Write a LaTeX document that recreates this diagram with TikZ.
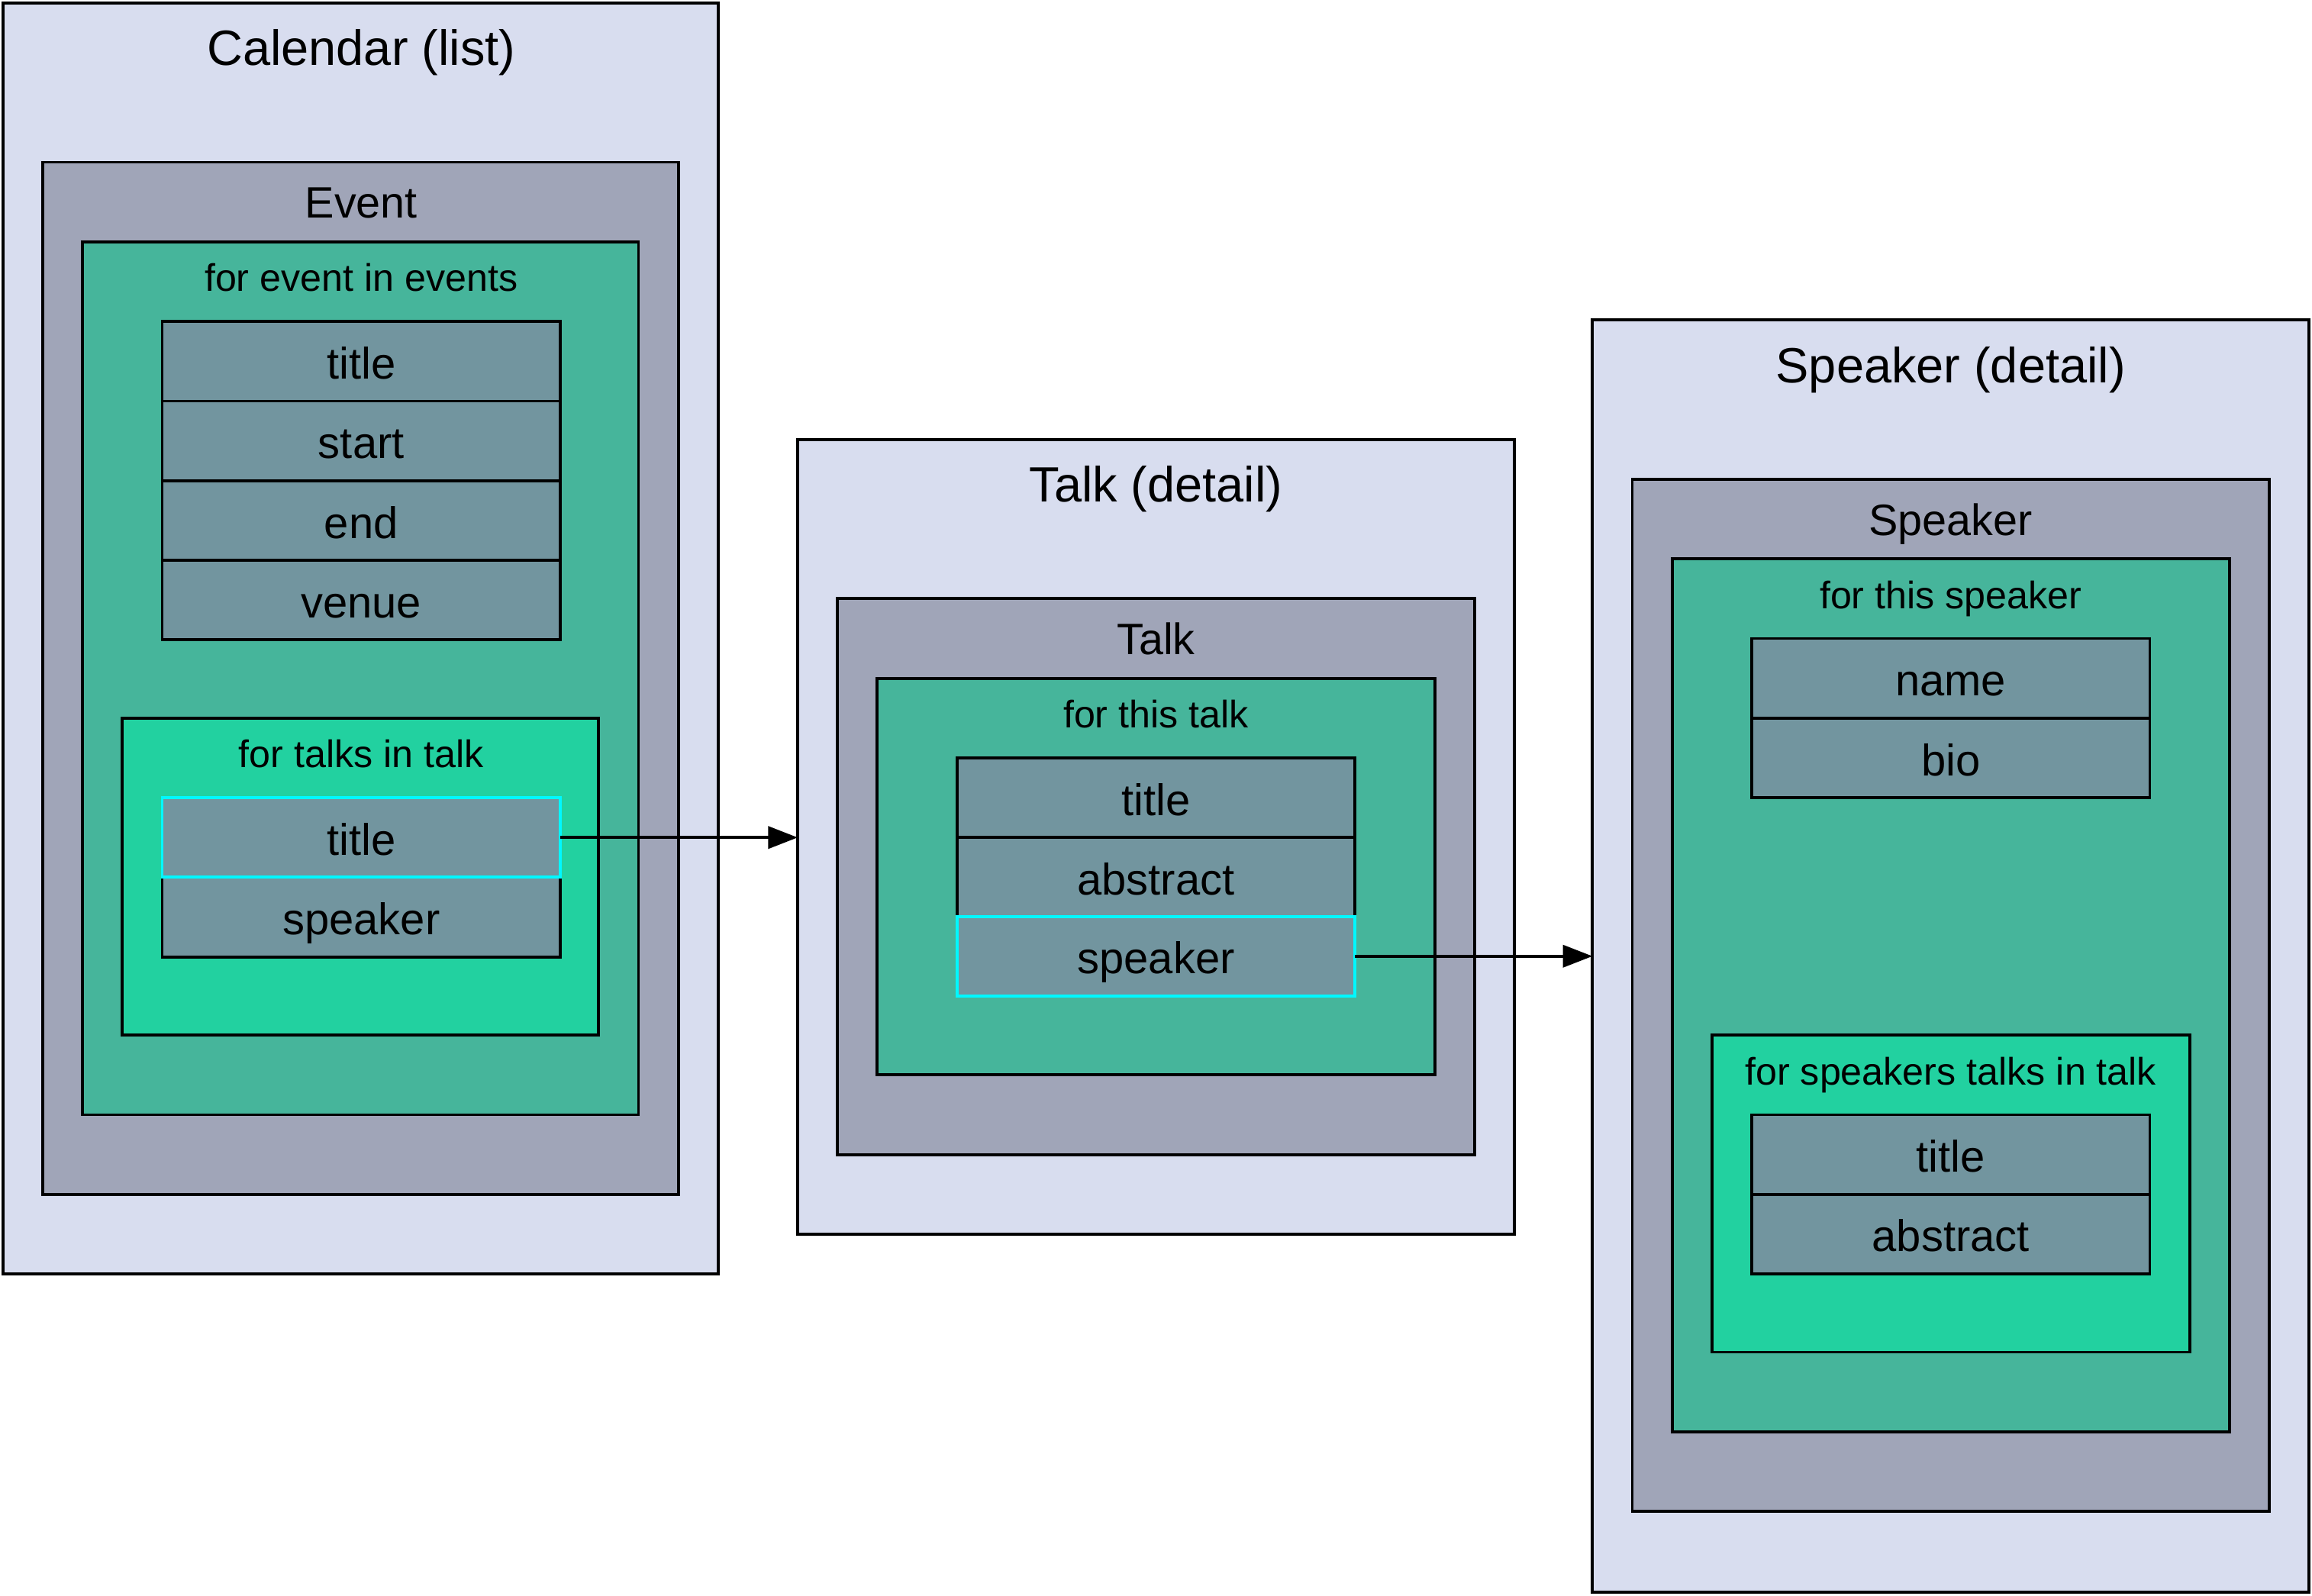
\documentclass[tikz,border=0pt]{standalone}
\usepackage{fontspec}
\setmainfont{Liberation Sans}
\usetikzlibrary{arrows.meta}
\definecolor{pagebg}{HTML}{D8DDEF}
\definecolor{objbg}{HTML}{A0A5B8}
\definecolor{loopbg}{HTML}{46B59B}
\definecolor{subloopbg}{HTML}{22D1A0}
\definecolor{fieldbg}{HTML}{72959F}
\definecolor{linkcyan}{HTML}{00F8FF}
\newcommand{\pxu}{0.5pt}

\begin{document}
\begin{tikzpicture}[x=0.5pt,y=-0.5pt,
  panel/.style={draw=black, line width=1pt, inner sep=0pt, outer sep=0pt, anchor=north west},
  wh/.style 2 args={minimum width=#1*\pxu, minimum height=#2*\pxu},
  pagebox/.style={panel, fill=pagebg},
  objbox/.style={panel, fill=objbg},
  loopbox/.style={panel, fill=loopbg},
  subloopbox/.style={panel, fill=subloopbg},
  bigtitle/.style={anchor=base, inner sep=0pt, font=\fontsize{16.8}{20}\selectfont},
  objtitle/.style={anchor=base, inner sep=0pt, font=\fontsize{14.9}{18}\selectfont},
  looptitle/.style={anchor=base, inner sep=0pt, font=\fontsize{13}{16}\selectfont},
  field/.style={draw=black, fill=fieldbg, line width=1pt, inner sep=0pt, outer sep=0pt,
    minimum width=270*\pxu, minimum height=54*\pxu,
    text height=14.25pt, text depth=2.3pt, font=\fontsize{15}{18}\selectfont},
  linkfield/.style={field, draw=linkcyan},
  link/.style={line width=1pt, -{Triangle[length=10pt,width=7.5pt]}}
]
\useasboundingbox (0,0) rectangle (1568,1082);
\fill[white] (0,0) rectangle (1568,1082);

% ---- Calendar (list) ----
\node[pagebox, wh={485}{862}] (cal) at (2,2) {};
\node[bigtitle] (calT) at (245,44.4) {Calendar (list)};
\node[objbox, wh={431}{700}] (event) at (29,110) {};
\node[objtitle] (eventT) at (245,147.9) {Event};
\node[loopbox, wh={377}{592}] (evloop) at (56,164) {};
\node[looptitle] (evloopT) at (245,197.6) {for event in events};
\node[field] (evtitle) at (245,245) {title};
\node[field] (evstart) at (245,299) {start};
\node[field] (evend) at (245,353) {end};
\node[field] (evvenue) at (245,407) {venue};
\node[subloopbox, wh={323}{215}] (tkloop) at (83,487) {};
\node[looptitle] (tkloopT) at (245,520.6) {for talks in talk};
\node[field] (lsspeaker) at (245,622) {speaker};
\node[linkfield] (lstitle) at (245,568) {title};

% ---- Talk (detail) ----
\node[pagebox, wh={486}{539}] (talkdet) at (541,298) {};
\node[bigtitle] (talkdetT) at (784,340.4) {Talk (detail)};
\node[objbox, wh={432}{377}] (talk) at (568,406) {};
\node[objtitle] (talkT) at (784,443.9) {Talk};
\node[loopbox, wh={378}{269}] (thistalk) at (595,460) {};
\node[looptitle] (thistalkT) at (784,493.6) {for this talk};
\node[field] (tdtitle) at (784,541) {title};
\node[field] (tdabstract) at (784,595) {abstract};
\node[linkfield] (tdspeaker) at (784,648.5) {speaker};

% ---- Speaker (detail) ----
\node[pagebox, wh={486}{863}] (spkdet) at (1080,217) {};
\node[bigtitle] (spkdetT) at (1323,259.4) {Speaker (detail)};
\node[objbox, wh={432}{700}] (spk) at (1107,325) {};
\node[objtitle] (spkT) at (1323,362.9) {Speaker};
\node[loopbox, wh={378}{592}] (thisspk) at (1134,379) {};
\node[looptitle] (thisspkT) at (1323,412.6) {for this speaker};
\node[field] (sname) at (1323,460) {name};
\node[field] (sbio) at (1323,514) {bio};
\node[subloopbox, wh={324}{215}] (spkloop) at (1161,702) {};
\node[looptitle] (spkloopT) at (1323,735.6) {for speakers talks in talk};
\node[field] (sttitle) at (1323,783) {title};
\node[field] (stabstract) at (1323,837) {abstract};

% ---- navigation links (kept horizontal) ----
\draw[link] (lstitle.east) -- (lstitle.east -| talkdet.west);
\draw[link] (tdspeaker.east) -- (tdspeaker.east -| spkdet.west);
\end{tikzpicture}
\end{document}
